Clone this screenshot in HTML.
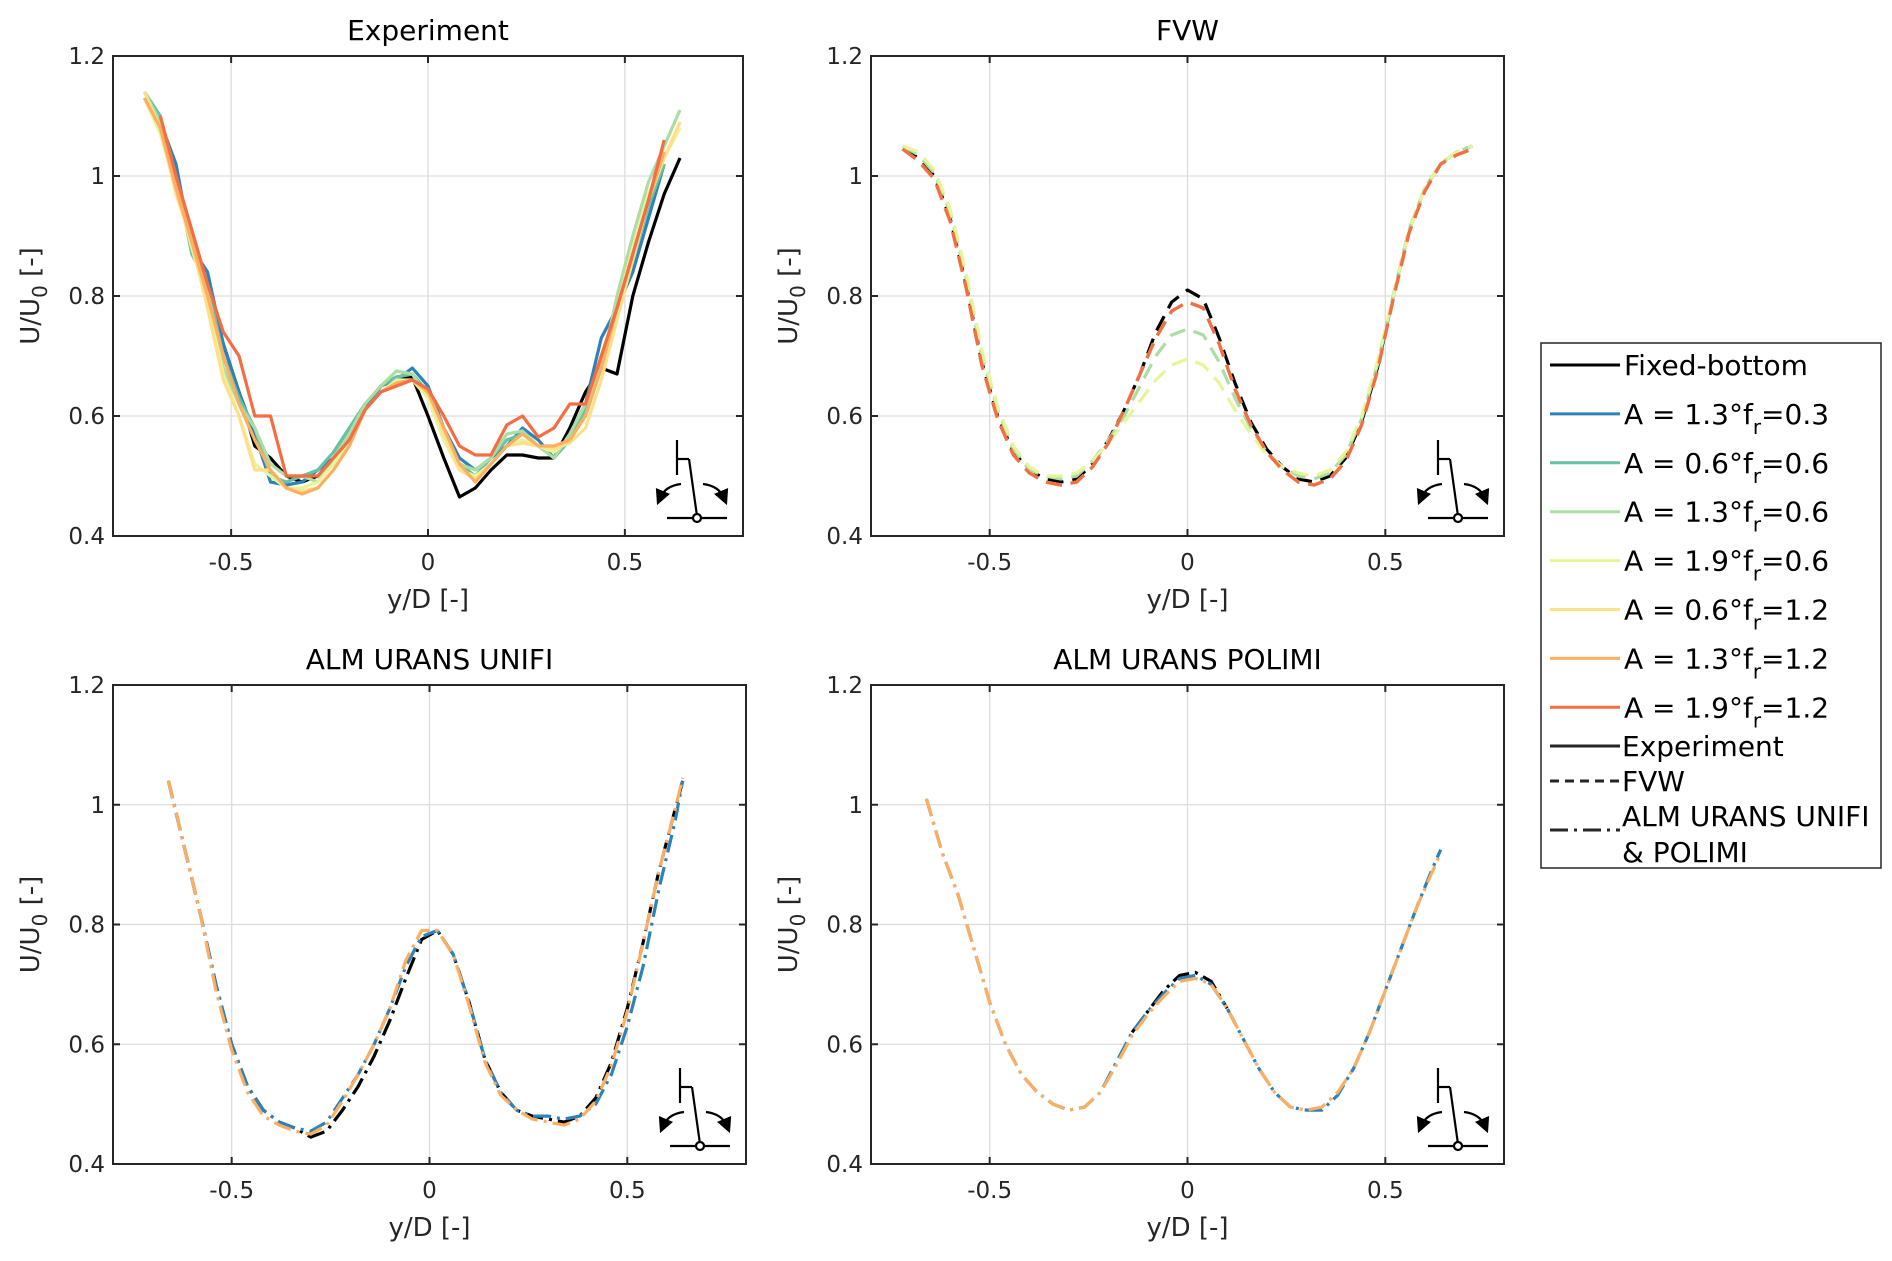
<!DOCTYPE html>
<html><head><meta charset="utf-8"><style>
html,body{margin:0;padding:0;background:#fff;}
svg{display:block;font-family:"DejaVu Sans","Liberation Sans",sans-serif;}
</style></head><body>
<svg id="fig" width="1892" height="1261" viewBox="0 0 1892 1261" xmlns="http://www.w3.org/2000/svg">
<defs>
<marker id="arr" viewBox="0 0 10 10" refX="5" refY="5" markerWidth="7" markerHeight="7" orient="auto-start-reverse"><path d="M0,0 L10,5 L0,10 z" fill="#000"/></marker>
</defs>
</svg>
<script>
const expX=[-0.72,-0.68,-0.64,-0.60,-0.56,-0.52,-0.48,-0.44,-0.40,-0.36,-0.32,-0.28,-0.24,-0.20,-0.16,-0.12,-0.08,-0.04,0,0.04,0.08,0.12,0.16,0.20,0.24,0.28,0.32,0.36,0.40,0.44,0.48,0.52,0.56,0.60,0.64,0.68];
const expFixed=[1.13,1.08,0.99,0.90,0.81,0.72,0.64,0.55,0.53,0.50,0.49,0.50,0.53,0.57,0.61,0.65,0.665,0.665,0.60,0.53,0.465,0.48,0.51,0.535,0.535,0.53,0.53,0.58,0.64,0.68,0.67,0.80,0.89,0.97,1.03,null];
const expA13f03=[1.14,1.09,1.02,0.88,0.84,0.72,0.64,0.57,0.49,0.485,0.49,0.51,0.53,0.56,0.61,0.65,0.66,0.68,0.65,0.58,0.53,0.51,0.53,0.55,0.58,0.56,0.53,0.57,0.62,0.73,0.78,0.84,0.93,1.02,null,null];
const expA06f06=[1.14,1.10,1.00,0.87,0.82,0.70,0.63,0.58,0.50,0.49,0.50,0.51,0.54,0.58,0.62,0.65,0.665,0.67,0.64,0.57,0.52,0.50,0.53,0.56,0.57,0.55,0.53,0.56,0.61,0.70,0.78,0.86,0.95,1.02,null,null];
const expA13f06=[1.14,1.09,0.99,0.90,0.81,0.68,0.62,0.58,0.52,0.50,0.50,0.49,0.53,0.57,0.62,0.65,0.675,0.67,0.63,0.57,0.52,0.51,0.53,0.57,0.575,0.55,0.53,0.57,0.62,0.68,0.80,0.90,0.99,1.05,1.11,null];
const expA19f06=[1.13,1.07,0.98,0.88,0.79,0.67,0.60,0.52,0.50,0.48,0.48,0.49,0.52,0.56,0.61,0.64,0.66,0.66,0.63,0.56,0.51,0.50,0.52,0.55,0.56,0.55,0.54,0.56,0.60,0.68,0.78,0.88,0.97,1.03,1.08,null];
const expA06f12=[1.14,1.08,0.97,0.89,0.78,0.66,0.60,0.51,0.51,0.48,0.475,0.48,0.51,0.55,0.61,0.64,0.655,0.66,0.64,0.57,0.51,0.495,0.52,0.55,0.555,0.55,0.545,0.555,0.58,0.66,0.76,0.86,0.96,1.03,1.09,null];
const expA13f12=[1.13,1.08,0.98,0.89,0.80,0.70,0.62,0.56,0.51,0.48,0.47,0.48,0.51,0.55,0.61,0.64,0.655,0.66,0.64,0.58,0.52,0.49,0.52,0.55,0.57,0.55,0.55,0.56,0.60,0.68,0.78,0.87,0.96,1.04,null,null];
const expA19f12=[null,1.10,1.00,0.91,0.82,0.74,0.70,0.60,0.60,0.50,0.50,0.50,0.53,0.56,0.61,0.64,0.65,0.66,0.645,0.60,0.55,0.535,0.535,0.585,0.60,0.565,0.58,0.62,0.62,0.70,0.78,0.87,0.96,1.06,null,null];

const fvwX=[-0.72,-0.68,-0.64,-0.60,-0.56,-0.52,-0.48,-0.44,-0.40,-0.36,-0.32,-0.28,-0.24,-0.20,-0.16,-0.12,-0.08,-0.04,0,0.04,0.08,0.12,0.16,0.20,0.24,0.28,0.32,0.36,0.40,0.44,0.48,0.52,0.56,0.60,0.64,0.68,0.72];
const fvwFixed=[1.045,1.03,1.0,0.93,0.82,0.69,0.60,0.54,0.51,0.495,0.49,0.495,0.52,0.56,0.61,0.67,0.74,0.79,0.81,0.795,0.73,0.655,0.59,0.545,0.515,0.495,0.49,0.50,0.53,0.59,0.68,0.80,0.91,0.98,1.02,1.04,1.05];
const fvwA13f06=[1.05,1.035,1.005,0.94,0.83,0.70,0.61,0.545,0.51,0.50,0.495,0.50,0.525,0.56,0.60,0.65,0.70,0.735,0.745,0.735,0.69,0.63,0.58,0.54,0.515,0.50,0.495,0.505,0.535,0.595,0.685,0.80,0.91,0.98,1.02,1.04,1.05];
const fvwA19f06=[1.05,1.04,1.01,0.945,0.84,0.71,0.615,0.55,0.515,0.50,0.50,0.505,0.525,0.555,0.59,0.625,0.66,0.685,0.695,0.685,0.655,0.61,0.57,0.535,0.515,0.505,0.50,0.51,0.54,0.60,0.69,0.80,0.91,0.98,1.02,1.04,1.05];
const fvwA19f12=[1.045,1.025,0.995,0.925,0.815,0.685,0.595,0.535,0.505,0.49,0.485,0.49,0.515,0.555,0.61,0.67,0.73,0.775,0.79,0.78,0.72,0.645,0.585,0.54,0.51,0.49,0.485,0.495,0.525,0.585,0.675,0.795,0.905,0.975,1.02,1.035,1.045];

const almX=[-0.66,-0.62,-0.58,-0.54,-0.50,-0.46,-0.42,-0.38,-0.34,-0.30,-0.26,-0.22,-0.18,-0.14,-0.10,-0.06,-0.02,0.02,0.06,0.10,0.14,0.18,0.22,0.26,0.30,0.34,0.38,0.42,0.46,0.50,0.54,0.58,0.62,0.64];
const unifiFixed=[1.04,0.93,0.82,0.70,0.60,0.53,0.49,0.47,0.46,0.445,0.455,0.49,0.53,0.58,0.64,0.71,0.775,0.79,0.75,0.67,0.575,0.52,0.49,0.48,0.475,0.47,0.48,0.51,0.57,0.66,0.77,0.89,0.99,1.04];
const unifiA13f03=[1.04,0.93,0.82,0.70,0.60,0.53,0.49,0.47,0.46,0.455,0.47,0.51,0.55,0.60,0.66,0.73,0.78,0.79,0.75,0.67,0.575,0.52,0.49,0.48,0.48,0.475,0.48,0.50,0.55,0.63,0.73,0.86,0.97,1.04];
const unifiA13f12=[1.04,0.93,0.82,0.69,0.59,0.52,0.48,0.465,0.455,0.45,0.465,0.505,0.55,0.60,0.66,0.74,0.79,0.79,0.75,0.665,0.57,0.515,0.49,0.475,0.47,0.465,0.475,0.505,0.565,0.655,0.77,0.89,0.99,1.045];

const polimiX=[-0.66,-0.62,-0.58,-0.54,-0.50,-0.46,-0.42,-0.38,-0.34,-0.30,-0.26,-0.22,-0.18,-0.14,-0.10,-0.06,-0.02,0.02,0.06,0.10,0.14,0.18,0.22,0.26,0.30,0.34,0.38,0.42,0.46,0.50,0.54,0.58,0.62,0.64];
const polimiFixed=[null,null,null,null,null,null,null,null,null,null,null,null,null,0.62,0.655,0.69,0.715,0.72,0.705,0.66,null,null,null,null,null,null,null,null,null,null,null,null,null,null];
const polimiA13f03=[1.01,0.92,0.85,0.76,0.67,0.60,0.55,0.52,0.50,0.49,0.495,0.52,0.57,0.62,0.655,0.685,0.71,0.715,0.70,0.66,0.61,0.56,0.52,0.495,0.49,0.49,0.515,0.56,0.62,0.69,0.76,0.83,0.895,0.925];
const polimiA13f12=[1.01,0.92,0.85,0.76,0.67,0.60,0.55,0.52,0.50,0.49,0.495,0.52,0.565,0.615,0.65,0.68,0.705,0.71,0.70,0.66,0.61,0.56,0.52,0.495,0.49,0.495,0.52,0.56,0.62,0.69,0.76,0.83,0.89,0.92];

const xTicks=[-0.5,0,0.5];
const xTickLabels=["-0.5","0","0.5"];
const yTicks=[0.4,0.6,0.8,1.0,1.2];
const yTickLabels=["0.4","0.6","0.8","1","1.2"];
const legendLabels=["Fixed-bottom","A = 1.3°f","A = 0.6°f","A = 1.3°f","A = 1.9°f","A = 0.6°f","A = 1.3°f","A = 1.9°f"];
const legendTails=["","=0.3","=0.6","=0.6","=0.6","=1.2","=1.2","=1.2"];

const C={k:"#000000",b:"#2b83ba",t:"#66c2a5",g:"#abdda4",yg:"#e6f598",y:"#fee08b",o:"#fdae61",r:"#f46d43"};
const NS="http://www.w3.org/2000/svg";
const svg=document.getElementById('fig');
function mk(tag,attrs,parent){const e=document.createElementNS(NS,tag);for(const k in attrs)e.setAttribute(k,attrs[k]);(parent||svg).appendChild(e);return e;}

const panels=[
 {key:"experiment",title:"Experiment",L:113,R:743,T:56,B:536,dash:"",series:[[expFixed,C.k],[expA13f03,C.b],[expA06f06,C.t],[expA13f06,C.g],[expA19f06,C.yg],[expA06f12,C.y],[expA13f12,C.o],[expA19f12,C.r]],xs:expX},
 {key:"fvw",title:"FVW",L:871,R:1504,T:56,B:536,dash:"16 9",series:[[fvwFixed,C.k],[fvwA19f12,C.b],[fvwA19f12,C.t],[fvwA13f06,C.g],[fvwA19f06,C.yg],[fvwA19f12,C.y],[fvwA19f12,C.o],[fvwA19f12,C.r]],xs:fvwX},
 {key:"unifi",title:"ALM URANS UNIFI",L:113,R:746,T:685,B:1164,dash:"18 6 3 6",series:[[unifiFixed,C.k],[unifiA13f03,C.b],[unifiA13f12,C.o]],xs:almX},
 {key:"polimi",title:"ALM URANS POLIMI",L:871,R:1504,T:685,B:1164,dash:"18 6 3 6",series:[[polimiFixed,C.k],[polimiA13f03,C.b],[polimiA13f12,C.o]],xs:polimiX}
];

panels.forEach(p=>{
 const g=mk('g',{});
 
 
 const sx=v=>p.L+(v+0.8)/1.6*(p.R-p.L);
 const sy=v=>p.B-(v-0.4)/0.8*(p.B-p.T);
 xTicks.forEach(v=>{const l=mk('line',{x1:sx(v),x2:sx(v),y1:p.T,y2:p.B,stroke:"#dcdcdc","stroke-width":1.3},g);});
 yTicks.forEach(v=>{const l=mk('line',{x1:p.L,x2:p.R,y1:sy(v),y2:sy(v),stroke:"#dcdcdc","stroke-width":1.3},g);});
 p.series.forEach(([vals,col],si)=>{
  let d="",pen=false;
  vals.forEach((v,i)=>{if(v===null||v===undefined||i>=p.xs.length){pen=false;return;}d+=(pen?"L":"M")+sx(p.xs[i]).toFixed(1)+","+sy(v).toFixed(1);pen=true;});
  const path=mk('path',{d:d,fill:"none",stroke:col,"stroke-width":3.2,"stroke-linejoin":"round","stroke-dasharray":p.dash},g);
  
  
 });
 const box=mk('rect',{x:p.L,y:p.T,width:p.R-p.L,height:p.B-p.T,fill:"none",stroke:"#262626","stroke-width":2},g);
 
 xTicks.forEach((v,i)=>{
  mk('line',{x1:sx(v),x2:sx(v),y1:p.B,y2:p.B-7,stroke:"#262626","stroke-width":2},g);
  mk('line',{x1:sx(v),x2:sx(v),y1:p.T,y2:p.T+7,stroke:"#262626","stroke-width":2},g);
  const t=mk('text',{x:sx(v),y:p.B+34,"text-anchor":"middle","font-size":23,fill:"#262626"},g);t.textContent=xTickLabels[i];
  
 });
 yTicks.forEach((v,i)=>{
  mk('line',{x1:p.L,x2:p.L+7,y1:sy(v),y2:sy(v),stroke:"#262626","stroke-width":2},g);
  mk('line',{x1:p.R,x2:p.R-7,y1:sy(v),y2:sy(v),stroke:"#262626","stroke-width":2},g);
  const t=mk('text',{x:p.L-8,y:sy(v)+8,"text-anchor":"end","font-size":23,fill:"#262626"},g);t.textContent=yTickLabels[i];
  
 });
 const tt=mk('text',{x:(p.L+p.R)/2,y:p.T-16,"text-anchor":"middle","font-size":28,fill:"#000"},g);tt.textContent=p.title;
 
 const xl=mk('text',{x:(p.L+p.R)/2,y:p.B+72,"text-anchor":"middle","font-size":26,fill:"#262626"},g);xl.textContent="y/D [-]";
 
 const cy=(p.T+p.B)/2, cx=p.L-74;
 const yl=mk('text',{x:cx,y:cy,"text-anchor":"middle","font-size":26,fill:"#262626",transform:`rotate(-90 ${cx} ${cy})`},g);
 yl.innerHTML='U/U<tspan dy="8" font-size="20">0</tspan><tspan dy="-8"> [-]</tspan>';
 
 const R=p.R,B=p.B;
 const ic=mk('g',{stroke:"#000","stroke-width":2.2,fill:"none"},g);
 
 mk('line',{x1:R-66,y1:B-96,x2:R-66,y2:B-61},ic);
 mk('line',{x1:R-66,y1:B-77,x2:R-54,y2:B-77},ic);
 mk('line',{x1:R-54,y1:B-77,x2:R-46,y2:B-20},ic);
 mk('line',{x1:R-76,y1:B-18,x2:R-16,y2:B-18},ic);
 mk('path',{d:`M${R-62},${B-52} Q${R-78},${B-50} ${R-83},${B-38}`,"marker-end":"url(#arr)"},ic);
 mk('path',{d:`M${R-40},${B-52} Q${R-24},${B-50} ${R-19},${B-38}`,"marker-end":"url(#arr)"},ic);
 mk('circle',{cx:R-46,cy:B-18,r:4,fill:"#fff"},ic);
});

const lg=mk('g',{});


mk('rect',{x:1541,y:343,width:340,height:525,fill:"#fff",stroke:"#262626","stroke-width":1.5},lg);
const cols=[C.k,C.b,C.t,C.g,C.yg,C.y,C.o,C.r];
legendLabels.forEach((lab,i)=>{
 const y=365+i*48.9;
 const e=mk('g',{},lg);
 
 
 mk('line',{x1:1550,x2:1620,y1:y,y2:y,stroke:cols[i],"stroke-width":3},e);
 const t=mk('text',{x:1624,y:y+10,"font-size":28,fill:"#000"},e);
 t.innerHTML=lab+(legendTails[i]?'<tspan dy="10" font-size="20">r</tspan><tspan dy="-10">'+legendTails[i]+'</tspan>':'');
});
const styl=[["Experiment",""],["FVW","9 6"],["ALM URANS UNIFI","18 6 3 6"]];
styl.forEach((s,i)=>{
 const y=746+i*35;
 const yy=i===2?y+14:y;
 const e=mk('g',{},lg);
 
 
 mk('line',{x1:1550,x2:1620,y1:yy,y2:yy,stroke:"#262626","stroke-width":3,"stroke-dasharray":s[1]},e);
 const t=mk('text',{x:1622,y:y+10,"font-size":28,fill:"#000"},e);t.textContent=s[0];
});
const t2=mk('text',{x:1622,y:862,"font-size":28,fill:"#000"},lg);t2.textContent="& POLIMI";
</script>
</body></html>
